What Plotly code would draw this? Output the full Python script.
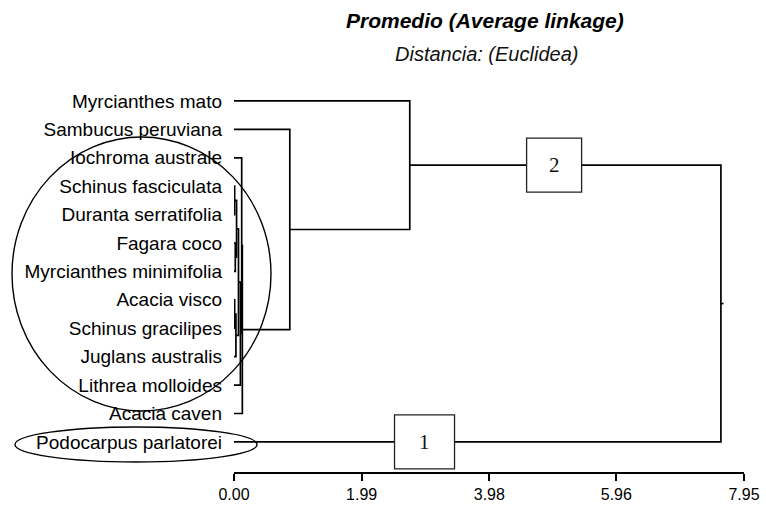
import plotly.graph_objects as go

# Leaves, top to bottom
leaves = [
    "Myrcianthes mato", "Sambucus peruviana", "Iochroma australe",
    "Schinus fasciculata", "Duranta serratifolia", "Fagara coco",
    "Myrcianthes minimifolia", "Acacia visco", "Schinus gracilipes",
    "Juglans australis", "Lithrea molloides", "Acacia caven",
    "Podocarpus parlatorei",
]

# Agglomeration steps (average linkage): child A, child B, fusion distance.
# Ids >= len(leaves) refer to clusters formed in earlier steps.
merge_a = [3, 5, 13, 7, 16, 15, 18, 2, 20, 1, 0, 23]
merge_b = [4, 6, 14, 8, 9, 17, 10, 19, 11, 21, 22, 12]
merge_h = [0.01, 0.02, 0.04, 0.01, 0.03, 0.07, 0.10, 0.12, 0.13, 0.87, 2.74, 7.59]

# Axis ticks
tick_vals = [0.0, 1.99, 3.98, 5.96, 7.95]
tick_text = ["0.00", "1.99", "3.98", "5.96", "7.95"]

# Group labels placed on the branches
group_names = ["1", "2"]
group_dist = [2.97, 4.99]

n = len(leaves)
ypos = {i: float(i) for i in range(n)}
hpos = {i: 0.0 for i in range(n)}

xs, ys = [], []
for k, (a, b, h) in enumerate(zip(merge_a, merge_b, merge_h)):
    cid = n + k
    ya, yb = ypos[a], ypos[b]
    xs += [hpos[a], h, h, hpos[b], None]
    ys += [ya, ya, yb, yb, None]
    ypos[cid] = (ya + yb) / 2
    hpos[cid] = h

root = n + len(merge_h) - 1
# short stub leaving the root node
xs += [hpos[root], hpos[root] + 0.04, None]
ys += [ypos[root], ypos[root], None]

fig = go.Figure()
fig.add_trace(go.Scatter(
    x=xs, y=ys, mode="lines",
    line=dict(color="black", width=1.7),
    hoverinfo="skip", showlegend=False,
))

# Group boxes: "1" on the Podocarpus branch, "2" on the upper branch
group_y = [ypos[12], ypos[n + len(merge_h) - 2]]
box_w = [60, 55]
for name, gx, gy, bw in zip(group_names, group_dist, group_y, box_w):
    fig.add_shape(
        type="rect", xref="x", yref="y",
        xsizemode="pixel", ysizemode="pixel",
        xanchor=gx, yanchor=gy,
        x0=-bw / 2, x1=bw / 2, y0=-27, y1=27,
        line=dict(color="#222", width=1.3), fillcolor="white",
    )
    fig.add_annotation(
        x=gx, y=gy, xref="x", yref="y", text=name, showarrow=False,
        font=dict(family="Liberation Serif", size=21, color="#111"),
    )

# Plot-area geometry in pixels (used for the paper-referenced items)
W, H = 766, 505
L, R, T, B = 234, 22, 70, 33
pw, ph = W - L - R, H - T - B


def px_x(p):
    return (p - L) / pw


def px_y(p):
    return (H - B - p) / ph


# Ellipses marking the two groups of species
fig.add_shape(type="circle", xref="paper", yref="paper",
              x0=px_x(12), x1=px_x(271), y0=px_y(411), y1=px_y(137),
              line=dict(color="black", width=1.4), fillcolor="rgba(0,0,0,0)")
fig.add_shape(type="circle", xref="paper", yref="paper",
              x0=px_x(15), x1=px_x(257), y0=px_y(462), y1=px_y(427),
              line=dict(color="black", width=1.4), fillcolor="rgba(0,0,0,0)")

fig.add_annotation(
    text="<b><i>Promedio (Average linkage)</i></b>",
    xref="paper", yref="paper", x=px_x(485), y=px_y(20),
    xanchor="center", yanchor="middle",
    showarrow=False, font=dict(family="Liberation Sans", size=21, color="black"),
)
fig.add_annotation(
    text="<i>Distancia: (Euclidea)</i>",
    xref="paper", yref="paper", x=px_x(486), y=px_y(54),
    xanchor="center", yanchor="middle",
    showarrow=False, font=dict(family="Liberation Sans", size=20, color="#111"),
)

fig.update_layout(
    width=W, height=H,
    margin=dict(l=L, r=R, t=T, b=B, autoexpand=False),
    plot_bgcolor="white", paper_bgcolor="white",
    showlegend=False,
    xaxis=dict(
        range=[0, 7.95], tickvals=tick_vals, ticktext=tick_text,
        showgrid=False, zeroline=False, showline=True,
        linecolor="black", linewidth=1.5,
        ticks="outside", ticklen=7, tickwidth=1.5, tickcolor="black",
        tickfont=dict(family="Liberation Sans", size=16, color="black"),
    ),
    yaxis=dict(
        range=[13.06, -1.09], tickvals=list(range(n)), ticktext=leaves,
        showgrid=False, zeroline=False, showline=False, ticks="",
        ticklabelstandoff=11,
        tickfont=dict(family="Liberation Sans", size=19, color="black"),
    ),
)

fig.write_html("out.html")
